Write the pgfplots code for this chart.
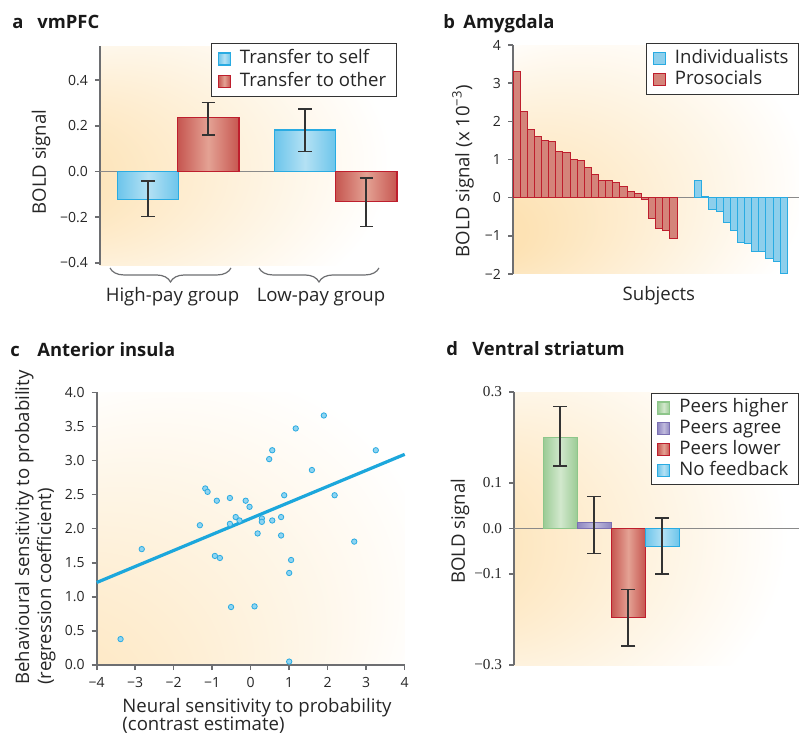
\documentclass[border=0pt]{standalone}
\usepackage{fontspec}
\setmainfont{Open Sans}
\newfontfamily\serifnum{Liberation Serif}
\usepackage{pgfplots}
\pgfplotsset{compat=1.18}
\usetikzlibrary{decorations.pathreplacing}

\definecolor{glow}{HTML}{FDE2B4}
\definecolor{axgray}{HTML}{6D6E71}
\definecolor{zerogray}{HTML}{8A8A8A}
\definecolor{errgray}{HTML}{333333}
\definecolor{bluedge}{HTML}{29ABE2}
\definecolor{blueside}{HTML}{6CC5EB}
\definecolor{bluemid}{HTML}{B4E1F4}
\definecolor{rededge}{HTML}{BE1E2D}
\definecolor{redside}{HTML}{C65650}
\definecolor{redmid}{HTML}{E4A294}
\definecolor{greenedge}{HTML}{8DC68A}
\definecolor{greenside}{HTML}{9BCB95}
\definecolor{greenmid}{HTML}{D2E8CD}
\definecolor{purpedge}{HTML}{7B70B2}
\definecolor{purpside}{HTML}{8E86C0}
\definecolor{purpmid}{HTML}{C0BBDD}
\definecolor{dotfill}{HTML}{8FD4F1}
\definecolor{lineblue}{HTML}{1CA7DC}
\definecolor{redflat}{HTML}{D4847A}
\definecolor{blueflat}{HTML}{8DCFEC}

\pgfdeclareradialshading{glowa}{\pgfpoint{-42bp}{-6bp}}{color(0bp)=(glow); color(6bp)=(glow); color(36bp)=(white); color(50bp)=(white)}
\pgfdeclareradialshading{glowb}{\pgfpoint{-33bp}{-18bp}}{color(0bp)=(glow); color(6bp)=(glow); color(36bp)=(white); color(50bp)=(white)}
\pgfdeclareradialshading{glowc}{\pgfpoint{-50bp}{-50bp}}{color(0bp)=(glow); color(6bp)=(glow); color(40bp)=(white); color(50bp)=(white)}
\pgfdeclareradialshading{glowd}{\pgfpoint{-46bp}{-4bp}}{color(0bp)=(glow); color(6bp)=(glow); color(36bp)=(white); color(50bp)=(white)}

\tikzset{
  ttl/.style={anchor=base west, inner sep=0, font=\fontsize{9.2}{11}\selectfont\bfseries, text=black!90},
  lbl/.style={inner sep=0, font=\fontsize{9.3}{11}\selectfont, text=black!85},
}

\pgfplotsset{
  panel/.style={
    scale only axis, anchor=south west,
    axis line style={-, axgray, line width=0.8pt},
    tick style={axgray, line width=0.8pt},
    major tick length=2.5pt, tick align=outside,
    tick label style={font=\fontsize{7}{8}\selectfont, text=black!85},
    label style={font=\fontsize{9.3}{11}\selectfont, text=black!85},
    legend style={draw=black!80, line width=0.5pt, fill=white,
      font=\fontsize{9.3}{11}\selectfont, text=black!85,
      inner xsep=3pt, inner ysep=2pt, row sep=0pt,
      /tikz/every odd column/.append style={column sep=2.5pt},
      nodes={inner ysep=1.2pt, text height=6.8pt, text depth=2pt}},
    legend cell align=left,
  },
  sq legend/.style={legend image code/.code={\draw[##1] (0pt,-3pt) rectangle (6pt,3pt);}},
  gbar/.style n args={3}{ybar, bar shift=0pt, draw=#1, left color=#2,
    right color=#2, middle color=#3, line width=0.6pt, sq legend},
  ebars/.style={draw=none, forget plot, mark=none,
    error bars/.cd, y dir=both, y explicit,
    error bar style={draw=errgray, line width=0.8pt},
    error mark options={rotate=90, draw=errgray, line width=0.8pt, mark size=#1}},
}

\begin{document}
\begin{tikzpicture}
\useasboundingbox (0,0) rectangle (399.5pt,367.5pt);

% titles
\node[ttl] at (6pt,353pt) {a};
\node[ttl] at (18.5pt,353pt) {vmPFC};
\node[ttl] at (221.5pt,353pt) {b};
\node[ttl] at (231.5pt,353pt) {Amygdala};
\node[ttl] at (5pt,189pt) {c};
\node[ttl] at (18.5pt,189pt) {Anterior insula};
\node[ttl] at (223pt,189.5pt) {d};
\node[ttl] at (236pt,189.5pt) {Ventral striatum};

% a: vmPFC
\begin{axis}[panel, at={(50pt,235pt)}, width=148.35pt, height=109.5pt,
  xmin=0, xmax=29.67, ymin=-0.41, ymax=0.55,
  axis x line=none, axis y line*=left,
  ytick={-0.4,-0.2,0,0.2,0.4}, yticklabels={−0.4,−0.2,0.0,0.2,0.4},
  ylabel={BOLD signal},
  ylabel style={at={([xshift=-29.5pt]rel axis cs:0,0.47)}, anchor=center},
  axis background/.style={shading=glowa},
  clip=false,
  legend style={at={(rel axis cs:1,1.012)}, anchor=north east},
]
\addplot[zerogray, line width=0.8pt, forget plot] coordinates {(0,0) (29.67,0)};
\addplot[gbar={bluedge}{blueside}{bluemid}, bar width=6.14] coordinates {(4.8,-0.123)};
\addlegendentry{Transfer to self}
\addplot[gbar={rededge}{redside}{redmid}, bar width=6.14] coordinates {(10.83,0.236)};
\addlegendentry{Transfer to other}
\addplot[gbar={bluedge}{blueside}{bluemid}, bar width=6.14, forget plot] coordinates {(20.5,0.182)};
\addplot[gbar={rededge}{redside}{redmid}, bar width=6.14, forget plot] coordinates {(26.62,-0.133)};
\addplot[ebars=3.3pt] coordinates {
  (4.8,-0.123) += (0,0.081) -= (0,0.075)
  (10.83,0.236) += (0,0.066) -= (0,0.075)
  (20.5,0.182) += (0,0.093) -= (0,0.094)
  (26.62,-0.133) += (0,0.104) -= (0,0.109)
};
\draw[axgray, line width=0.6pt, decorate, decoration={brace, mirror, amplitude=7pt}]
  (axis cs:1.0,-0.423) -- (axis cs:13.1,-0.423);
\draw[axgray, line width=0.6pt, decorate, decoration={brace, mirror, amplitude=7pt}]
  (axis cs:15.9,-0.423) -- (axis cs:27.9,-0.423);
\node[lbl, anchor=base] at (axis cs:7.25,-0.572) {High-pay group};
\node[lbl, anchor=base] at (axis cs:22.1,-0.572) {Low-pay group};
\end{axis}

% b: Amygdala
\begin{axis}[panel, at={(256.5pt,230.5pt)}, width=143pt, height=114.5pt,
  xmin=0, xmax=40.1, ymin=-2, ymax=4,
  axis x line=none, axis y line*=left,
  ytick={-2,-1,0,1,2,3,4}, yticklabels={−2,−1,0,1,2,3,4},
  ylabel={BOLD signal (x 10\textsuperscript{−3})},
  ylabel style={at={([xshift=-25pt]rel axis cs:0,0.45)}, anchor=center},
  axis background/.style={shading=glowb},
  clip=false,
  legend style={at={(rel axis cs:1,1.009)}, anchor=north east,
    nodes={inner ysep=1pt}},
]
\addplot[zerogray, line width=0.8pt, forget plot] coordinates {(0,0) (40.1,0)};
\addplot[ybar, bar width=1, bar shift=0pt, fill=blueflat, draw=bluedge, line width=0.5pt, sq legend] coordinates {
  (25.97,0.45) (26.97,0.04) (27.97,-0.31) (28.97,-0.35) (29.97,-0.65) (30.97,-0.86)
  (31.97,-1.18) (32.97,-1.20) (33.97,-1.42) (34.97,-1.42) (35.97,-1.60) (36.97,-1.67)
  (37.97,-2.0)};
\addlegendentry{Individualists}
\addplot[ybar, bar width=1, bar shift=0pt, fill=redflat, draw=rededge, line width=0.5pt, sq legend] coordinates {
  (0.5,3.3) (1.5,2.25) (2.5,1.78) (3.5,1.6) (4.5,1.5) (5.5,1.47) (6.5,1.2) (7.5,1.18)
  (8.5,1.0) (9.5,0.97) (10.5,0.78) (11.5,0.61) (12.5,0.46) (13.5,0.46) (14.5,0.41)
  (15.5,0.30) (16.5,0.17) (17.5,0.12) (18.5,-0.06) (19.5,-0.54) (20.5,-0.80)
  (21.5,-0.87) (22.5,-1.08)};
\addlegendentry{Prosocials}
\node[lbl, anchor=base] at ([yshift=-13pt]rel axis cs:0.51,0) {Subjects};
\end{axis}

% c: Anterior insula
\begin{axis}[panel, at={(48.35pt,35pt)}, width=154pt, height=136.35pt,
  xmin=-4, xmax=4, ymin=0, ymax=4,
  axis x line*=bottom, axis y line*=left,
  xtick={-4,-3,-2,-1,0,1,2,3,4}, xticklabels={−4,−3,−2,−1,0,1,2,3,4},
  ytick={0,0.5,1,1.5,2,2.5,3,3.5,4},
  yticklabels={0.0,0.5,1.0,1.5,2.0,2.5,3.0,3.5,4.0},
  axis background/.style={shading=glowc},
  clip=false,
]
\addplot[lineblue, line width=1.6pt] coordinates {(-4,1.21) (4,3.09)};
\addplot[only marks, mark=*, mark size=1.35pt,
  mark options={fill=dotfill, draw=bluedge, line width=0.4pt}] coordinates {
  (-3.38,0.38) (-2.83,1.70) (-1.32,2.05) (-1.18,2.59) (-1.12,2.54) (-0.88,2.41)
  (-0.54,2.45) (-0.93,1.60) (-0.80,1.57) (-0.51,0.85) (-0.54,2.07) (-0.39,2.17)
  (-0.29,2.12) (-0.13,2.41) (-0.03,2.32) (0.10,0.86) (0.18,1.93) (0.29,2.15)
  (0.29,2.10) (0.48,3.02) (0.56,3.15) (0.56,2.12) (0.79,2.17) (0.79,1.90)
  (0.87,2.49) (1.00,1.35) (1.05,1.54) (1.00,0.05) (1.17,3.47) (1.59,2.86)
  (1.90,3.66) (2.18,2.49) (2.69,1.81) (3.25,3.15)};
\node[lbl, rotate=90, anchor=base west]
  at ([xshift=-33.85pt, yshift=-10pt]rel axis cs:0,0) {Behavioural sensitivity to probability};
\node[lbl, rotate=90, anchor=base west]
  at ([xshift=-22.85pt, yshift=-10pt]rel axis cs:0,0) {(regression coefficient)};
\node[lbl, anchor=base west]
  at ([xshift=12.65pt, yshift=-23.5pt]rel axis cs:0,0) {Neural sensitivity to probability};
\node[lbl, anchor=base west]
  at ([xshift=12.65pt, yshift=-32.8pt]rel axis cs:0,0) {(contrast estimate)};
\end{axis}

% d: Ventral striatum
\begin{axis}[panel, at={(257pt,35pt)}, width=142.5pt, height=136.5pt,
  xmin=0, xmax=8.38, ymin=-0.3, ymax=0.3,
  axis x line=none, axis y line*=left,
  ytick={-0.3,-0.1,0,0.1,0.3}, yticklabels={−0.3,−0.1,0.0,0.1,0.3},
  yticklabel style={font=\serifnum\fontsize{7.6}{9}\selectfont},
  ylabel={BOLD signal},
  ylabel style={at={([xshift=-27pt]rel axis cs:0,0.49)}, anchor=center},
  axis background/.style={shading=glowd},
  legend style={at={(rel axis cs:1,0.996)}, anchor=north east,
    nodes={inner ysep=0.8pt}},
]
\addplot[zerogray, line width=0.8pt, forget plot] coordinates {(0,0) (8.38,0)};
\addplot[gbar={greenedge}{greenside}{greenmid}, bar width=1] coordinates {(1.36,0.200)};
\addlegendentry{Peers higher}
\addplot[gbar={purpedge}{purpside}{purpmid}, bar width=1] coordinates {(2.36,0.013)};
\addlegendentry{Peers agree}
\addplot[gbar={rededge}{redside}{redmid}, bar width=1] coordinates {(3.36,-0.195)};
\addlegendentry{Peers lower}
\addplot[gbar={bluedge}{blueside}{bluemid}, bar width=1] coordinates {(4.36,-0.040)};
\addlegendentry{No feedback}
\addplot[ebars=3.6pt] coordinates {
  (1.36,0.200) += (0,0.068) -= (0,0.063)
  (2.36,0.013) += (0,0.057) -= (0,0.068)
  (3.36,-0.195) += (0,0.061) -= (0,0.063)
  (4.36,-0.040) += (0,0.063) -= (0,0.060)
};
\end{axis}
\end{tikzpicture}
\end{document}
